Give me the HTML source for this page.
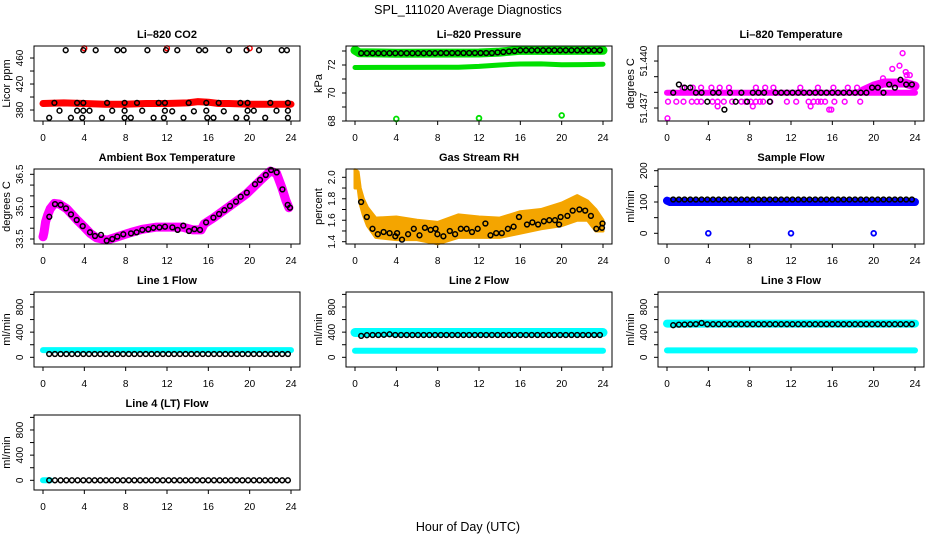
<!DOCTYPE html>
<html><head><meta charset="utf-8"><style>
html,body{margin:0;padding:0;background:#fff;}
svg{display:block;font-family:"Liberation Sans",Arial,sans-serif;}
</style></head><body>
<svg id="fig" width="936" height="540" viewBox="0 0 936 540" xmlns="http://www.w3.org/2000/svg">
<rect width="936" height="540" fill="#fff"/>
<text x="468" y="14" text-anchor="middle" font-size="12.5">SPL_111020  Average Diagnostics</text>
<text x="468" y="531" text-anchor="middle" font-size="12.5">Hour of Day (UTC)</text>
</svg>
<script>
// ---------- data ----------
const sampleHours=[0.6,1.15,1.7,2.25,2.8,3.35,3.9,4.45,5.0,5.55,6.1,6.65,7.2,7.75,8.3,8.85,9.4,9.95,10.5,11.05,11.6,12.15,12.7,13.25,13.8,14.35,14.9,15.45,16.0,16.55,17.1,17.65,18.2,18.75,19.3,19.85,20.4,20.95,21.5,22.05,22.6,23.15,23.7];

// CO2
const co2BandH=[0,2,4,6,8,10,12,14,15,16,17,18,20,22,24];
const co2BandV=[390,391,390,389,389,390,390,391,393,392,390,390,389,389,389];
const co2RedOutH=[4,12,20];
const co2RedOutV=[475,475,475];
const co2TopH=[2.2,3.9,5.1,7.2,7.8,10.1,11.9,13.0,15.1,15.7,18.0,19.7,20.9,23.1,23.6];
const co2TopV=[472,472,472,472,472,472,472,472,472,472,472,472,472,472,472];
const co2MidH=[1.1,3.3,3.9,6.2,7.9,9.1,11.2,11.8,14.1,15.8,17.0,19.1,19.8,22.0,23.7];
const co2MidV=[391,391,391,391,391,391,391,391,391,391,391,391,391,391,391];
const co2LowH=[1.6,3.3,3.9,4.5,6.7,7.9,9.6,11.8,12.5,14.6,15.8,17.5,19.8,20.4,22.6,23.7];
const co2LowV=[379,379,379,379,379,379,379,379,378,378,379,378,379,379,379,379];
const co2BotH=[0.6,2.7,3.8,5.7,7.9,8.5,10.7,11.7,13.6,15.9,16.5,18.7,19.7,21.5,23.7];
const co2BotV=[368,368,368,368,368,368,368,368,368,368,368,368,368,368,368];

// Pressure
const pressBlack=[72.84,72.84,72.84,72.84,72.84,72.84,72.84,72.84,72.84,72.84,72.84,72.84,72.84,72.84,72.86,72.86,72.86,72.86,72.86,72.86,72.86,72.86,72.86,72.86,72.9,72.93,72.97,73.0,73.05,73.05,73.05,73.05,73.05,73.05,73.05,73.05,73.05,73.05,73.05,73.05,73.05,73.05,73.05];
const pressUpH=[0,0.4,4,8,12,14,16,20,24];
const pressUpV=[73.05,72.88,72.84,72.85,72.86,72.92,73.05,73.04,73.05];
const pressLowH=[0,4,8,10,12,14,15,16,18,20,22,24];
const pressLowV=[71.82,71.83,71.84,71.84,71.9,72.0,72.04,72.07,72.08,72.02,72.03,72.06];
const pressOutH=[4,12,20];
const pressOutV=[68.15,68.2,68.4];

// Li-820 temperature
const tempBlack=[51.43798,51.4385,51.4383,51.4383,51.43798,51.43798,51.4374,51.43798,51.43798,51.4369,51.43798,51.4374,51.43798,51.4374,51.43798,51.43798,51.43798,51.4374,51.43798,51.43798,51.43798,51.43798,51.43798,51.43798,51.43798,51.43798,51.43798,51.43798,51.43798,51.43798,51.43798,51.43798,51.43798,51.43798,51.43798,51.4383,51.4383,51.43798,51.4385,51.4383,51.4388,51.4385,51.4385];
const tempBandH=[0,24];
const tempBandV=[51.43798,51.43798];
const tempRiseH=[19,20,21,22,23,24];
const tempRiseV=[51.4381,51.4384,51.4386,51.4386,51.4386,51.4384];
const tempPinkH=[0.1,0.9,1.6,2.4,2.9,3.3,4.4,4.9,5.5,6.3,7.2,7.6,8.1,8.6,9.0,9.3,10.0,11.6,12.5,13.7,14.2,14.6,14.9,15.3,16.2,17.2,18.7,1.5,2.5,3.3,4.3,5.1,6.0,8.6,9.5,10.3,12.9,14.6,16.1,17.5,18.4,0.05,15.9,15.7,4.9,8.3,13.9,21.8,22.5,22.8,23.1,23.5,23.2,20.9];
const tempPinkV=[51.4374,51.4374,51.4374,51.4374,51.4374,51.4374,51.4374,51.4374,51.4374,51.4374,51.4374,51.4374,51.4374,51.4374,51.4374,51.4374,51.4374,51.4374,51.4374,51.4374,51.4374,51.4374,51.4374,51.4374,51.4374,51.4374,51.4374,51.4383,51.4383,51.4383,51.4383,51.4383,51.4383,51.4383,51.4383,51.4383,51.4383,51.4383,51.4383,51.4383,51.4383,51.43634,51.4369,51.4369,51.4371,51.4371,51.4371,51.4395,51.4397,51.4405,51.4393,51.4391,51.4391,51.4389];

// Ambient box temperature
const ambH=[0.61,1.16,1.71,2.23,2.71,3.26,3.84,4.55,5.03,5.61,6.16,6.71,7.19,7.77,8.52,9.06,9.61,10.19,10.68,11.26,11.81,12.52,13.03,13.58,14.13,14.65,15.19,15.78,16.49,17.04,17.55,18.10,18.68,19.13,19.72,20.52,21.0,21.56,22.07,22.62,23.17,23.68,23.9];
const ambV=[34.53,35.12,35.08,34.92,34.64,34.38,34.10,33.81,33.64,33.69,33.42,33.50,33.61,33.72,33.76,33.81,33.92,33.95,34.02,34.04,34.07,34.04,33.92,34.12,33.87,33.96,33.92,34.27,34.49,34.66,34.84,35.03,35.23,35.46,35.65,36.04,36.24,36.47,36.70,36.59,35.80,35.08,34.95];
const ambPinkH=[0,0.1,0.25,0.45,0.7,1.1,1.6,2.3,3.3,4.0,4.6,5.2,6.2,7.2,8.5,9.6,11,12.5,13.5,14.5,15.3,15.6,16.5,18,19.7,21,22,22.6,23.1,23.5,23.8];
const ambPinkV=[33.6,33.8,34.3,34.6,34.9,35.15,35.12,34.9,34.38,34.05,33.75,33.55,33.45,33.6,33.8,33.95,34.05,34.05,34.05,33.92,33.92,34.2,34.48,35.0,35.6,36.2,36.65,36.55,35.9,35.3,34.95];

// Gas stream RH
const rhH=[0.59,1.14,1.69,2.21,2.77,3.35,3.90,4.07,4.55,5.14,5.69,6.24,6.76,7.32,7.80,7.97,8.55,9.17,9.69,10.24,10.80,11.32,11.87,12.62,13.11,13.66,14.21,14.80,15.35,15.87,16.65,17.17,17.72,18.28,18.80,19.35,19.90,19.75,20.55,21.07,21.72,22.28,22.83,23.35,23.90,23.95];
const rhV=[1.77,1.63,1.52,1.47,1.49,1.48,1.45,1.48,1.42,1.47,1.52,1.46,1.53,1.51,1.52,1.47,1.45,1.50,1.47,1.52,1.52,1.49,1.52,1.57,1.46,1.48,1.48,1.52,1.54,1.63,1.56,1.58,1.56,1.59,1.60,1.60,1.63,1.56,1.64,1.69,1.70,1.69,1.64,1.52,1.53,1.57];
const rhBandH=[0,0.3,0.5,0.8,1.2,2,4,6,8,10,12,14,16,18,20,21.5,22.5,23.3,24];
const rhUpper=[2.07,2.05,1.9,1.8,1.72,1.62,1.63,1.6,1.58,1.65,1.63,1.62,1.68,1.7,1.76,1.83,1.78,1.7,1.6];
const rhLower=[1.9,1.9,1.75,1.65,1.55,1.44,1.42,1.42,1.38,1.44,1.44,1.44,1.48,1.52,1.55,1.6,1.6,1.5,1.5];

// Sample flow
const sampleBlack=[108,108,108,108,108,108,108,108,108,108,108,108,108,108,108,108,108,108,108,108,108,108,108,108,108,108,108,108,108,108,108,108,108,108,108,108,108,108,108,108,108,108,108];
const sampleBandH=[0,0.3,24];
const sampleBandV=[104,100,100];
const sampleOutH=[4,12,20];
const sampleOutV=[0,0,0];

// Line flows
const line1Black=[52,52,52,52,52,52,52,52,52,52,52,52,52,52,52,52,52,52,52,52,52,52,52,52,52,52,52,52,52,52,52,52,52,52,52,52,52,52,52,52,52,52,52];
const line1CyanH=[0,24];
const line1CyanV=[115,115];
const line2Black=[340,352,355,355,358,365,355,355,355,355,355,355,355,355,355,355,355,355,355,355,355,355,355,355,355,355,355,355,355,355,355,355,355,355,355,355,355,355,355,355,355,355,355];
const line2UpH=[0,24];
const line2UpV=[395,395];
const line2LowH=[0,24];
const line2LowV=[105,105];
const line3Black=[510,520,522,525,528,545,525,527,527,527,527,527,527,527,527,527,527,527,527,527,527,527,527,527,527,527,527,527,527,527,527,527,527,527,527,527,527,527,527,527,527,527,527];
const line3UpH=[0,24];
const line3UpV=[535,535];
const line3LowH=[0,24];
const line3LowV=[110,110];
const line4Black=[0,0,0,0,0,0,0,0,0,0,0,0,0,0,0,0,0,0,0,0,0,0,0,0,0,0,0,0,0,0,0,0,0,0,0,0,0,0,0,0,0,0,0];
const line4CyanH=[0,0.7];
const line4CyanV=[0,0];

const xTicks=[0,4,8,12,16,20,24];

// ---------- drawing ----------
const NS='http://www.w3.org/2000/svg';
const svg=document.getElementById('fig');
const colL=[34,346,658], rowT=[46,169,292,415], PW=266, PH=75;
function mk(tag,attrs,parent){const e=document.createElementNS(NS,tag);for(const k in attrs)e.setAttribute(k,attrs[k]);(parent||svg).appendChild(e);return e;}

function panel(col,row,name,title,ylab,ymin,ymax,ticks,labels){
  const L=colL[col],T=rowT[row],B=T+PH;
  const g=mk('g',{});
  
  
  const sx=h=>L+9+h*248/24;
  const sy=v=>B-(v-ymin)/(ymax-ymin)*PH;
  const t=mk('text',{x:L+PW/2,y:T-8,'text-anchor':'middle','font-size':11,'font-weight':'bold'},g);
  t.textContent=title;
  
  
  const yl=mk('text',{x:0,y:0,'text-anchor':'middle','font-size':11,transform:`translate(${L-24},${T+PH/2}) rotate(-90)`},g);
  yl.textContent=ylab;
  
  
  xTicks.forEach(h=>{
    mk('line',{x1:sx(h),x2:sx(h),y1:B,y2:B+4,stroke:'#000','stroke-width':1},g);
    const tx=mk('text',{x:sx(h),y:B+20,'text-anchor':'middle','font-size':10},g);
    tx.textContent=h;
    
    
  });
  ticks.forEach(v=>{
    mk('line',{x1:L-4,x2:L,y1:sy(v),y2:sy(v),stroke:'#000','stroke-width':1},g);
  });
  labels.forEach(lb=>{
    const ty=mk('text',{x:0,y:0,'text-anchor':'middle','font-size':10,transform:`translate(${L-11},${sy(lb[0])}) rotate(-90)`},g);
    ty.textContent=lb[1];
    
    
  });
  const data=mk('g',{},g);
  
  
  const box=mk('rect',{x:L,y:T,width:PW,height:PH,fill:'none',stroke:'#000','stroke-width':1},g);
  
  
  return {sx,sy,g:data};
}
function band(p,hs,vs,color,w,nm){
  const pts=hs.map((h,i)=>p.sx(h).toFixed(1)+','+p.sy(vs[i]).toFixed(1)).join(' ');
  const e=mk('polyline',{points:pts,fill:'none',stroke:color,'stroke-width':w,'stroke-linecap':'round','stroke-linejoin':'round'},p.g);
  
  
}
function area(p,hs,up,lo,color,nm){
  const a=hs.map((h,i)=>p.sx(h).toFixed(1)+','+p.sy(up[i]).toFixed(1));
  const b=hs.map((h,i)=>p.sx(h).toFixed(1)+','+p.sy(lo[i]).toFixed(1)).reverse();
  const e=mk('polygon',{points:a.concat(b).join(' '),fill:color,stroke:color,'stroke-width':3,'stroke-linejoin':'round'},p.g);
  
  
}
function pts(p,hs,vs,color,nm,sw){
  hs.forEach((h,i)=>{
    const c=mk('circle',{cx:p.sx(h).toFixed(1),cy:p.sy(vs[i]).toFixed(1),r:2.4,fill:'none',stroke:color,'stroke-width':sw||1.5},p.g);
    
    
  });
}

// Li-820 CO2
let p=panel(0,0,'co2','Li\u2013820 CO2','Licor ppm',363.1,478.5,[380,400,420,440,460],[[380,'380'],[420,'420'],[460,'460']]);
band(p,co2BandH,co2BandV,'#ff0000',7,'co2-red-band');
pts(p,co2RedOutH,co2RedOutV,'#ff0000','co2-red-point');
pts(p,co2TopH,co2TopV,'#000','co2-point');
pts(p,co2MidH,co2MidV,'#000','co2-point');
pts(p,co2LowH,co2LowV,'#000','co2-point');
pts(p,co2BotH,co2BotV,'#000','co2-point');

// Pressure
p=panel(1,0,'pressure','Li\u2013820 Pressure','kPa',68,73.357,[68,69,70,71,72,73],[[68,'68'],[70,'70'],[72,'72']]);
band(p,pressUpH,pressUpV,'#00e000',9,'pressure-green-band-upper');
band(p,pressLowH,pressLowV,'#00e000',5,'pressure-green-band-lower');
pts(p,pressOutH,pressOutV,'#00e000','pressure-green-point',1.8);
pts(p,sampleHours,pressBlack,'#000','pressure-point');

// Temperature
p=panel(2,0,'li820-temp','Li\u2013820 Temperature','degrees C',51.43617,51.44096,[51.437,51.438,51.439,51.440],[[51.437,'51.437'],[51.440,'51.440']]);
band(p,tempBandH,tempBandV,'#ff00ff',6,'temp-pink-band');
band(p,tempRiseH,tempRiseV,'#ff00ff',9,'temp-pink-rise');
pts(p,tempPinkH,tempPinkV,'#ff00ff','temp-pink-point');
pts(p,sampleHours,tempBlack,'#000','temp-point');

// Ambient
p=panel(0,1,'ambient','Ambient Box Temperature','degrees C',33.268,36.746,[33.5,34,34.5,35,35.5,36,36.5],[[33.5,'33.5'],[35,'35.0'],[36.5,'36.5']]);
band(p,ambPinkH,ambPinkV,'#ff00ff',9,'ambient-pink-band');
pts(p,ambH,ambV,'#000','ambient-point');

// Gas stream RH
p=panel(1,1,'rh','Gas Stream RH','percent',1.3786,2.0774,[1.4,1.5,1.6,1.7,1.8,1.9,2.0],[[1.4,'1.4'],[1.6,'1.6'],[1.8,'1.8'],[2.0,'2.0']]);
area(p,rhBandH,rhUpper,rhLower,'#f4a500','rh-orange-band');
pts(p,rhH,rhV,'#000','rh-point');

// Sample flow
p=panel(2,1,'sample-flow','Sample Flow','ml/min',-34.2,205.4,[0,50,100,150,200],[[0,'0'],[100,'100'],[200,'200']]);
band(p,sampleBandH,sampleBandV,'#0000ff',8,'sample-blue-band');
pts(p,sampleOutH,sampleOutV,'#0000ff','sample-blue-point',1.8);
pts(p,sampleHours,sampleBlack,'#000','sample-point');

const flowTicks=[0,200,400,600,800,1000], flowLabels=[[0,'0'],[400,'400'],[800,'800']];
// Line 1
p=panel(0,2,'line1','Line 1 Flow','ml/min',-154,1038,flowTicks,flowLabels);
band(p,line1CyanH,line1CyanV,'#00ffff',6,'line1-cyan-band');
pts(p,sampleHours,line1Black,'#000','line1-point');
// Line 2
p=panel(1,2,'line2','Line 2 Flow','ml/min',-154,1038,flowTicks,flowLabels);
band(p,line2UpH,line2UpV,'#00ffff',9,'line2-cyan-upper');
band(p,line2LowH,line2LowV,'#00ffff',6,'line2-cyan-lower');
pts(p,sampleHours,line2Black,'#000','line2-point');
// Line 3
p=panel(2,2,'line3','Line 3 Flow','ml/min',-154,1038,flowTicks,flowLabels);
band(p,line3UpH,line3UpV,'#00ffff',8,'line3-cyan-upper');
band(p,line3LowH,line3LowV,'#00ffff',6,'line3-cyan-lower');
pts(p,sampleHours,line3Black,'#000','line3-point');
// Line 4
p=panel(0,3,'line4','Line 4 (LT) Flow','ml/min',-154,1038,flowTicks,flowLabels);
band(p,line4CyanH,line4CyanV,'#00ffff',6,'line4-cyan-band');
pts(p,sampleHours,line4Black,'#000','line4-point');
</script>
</body></html>
